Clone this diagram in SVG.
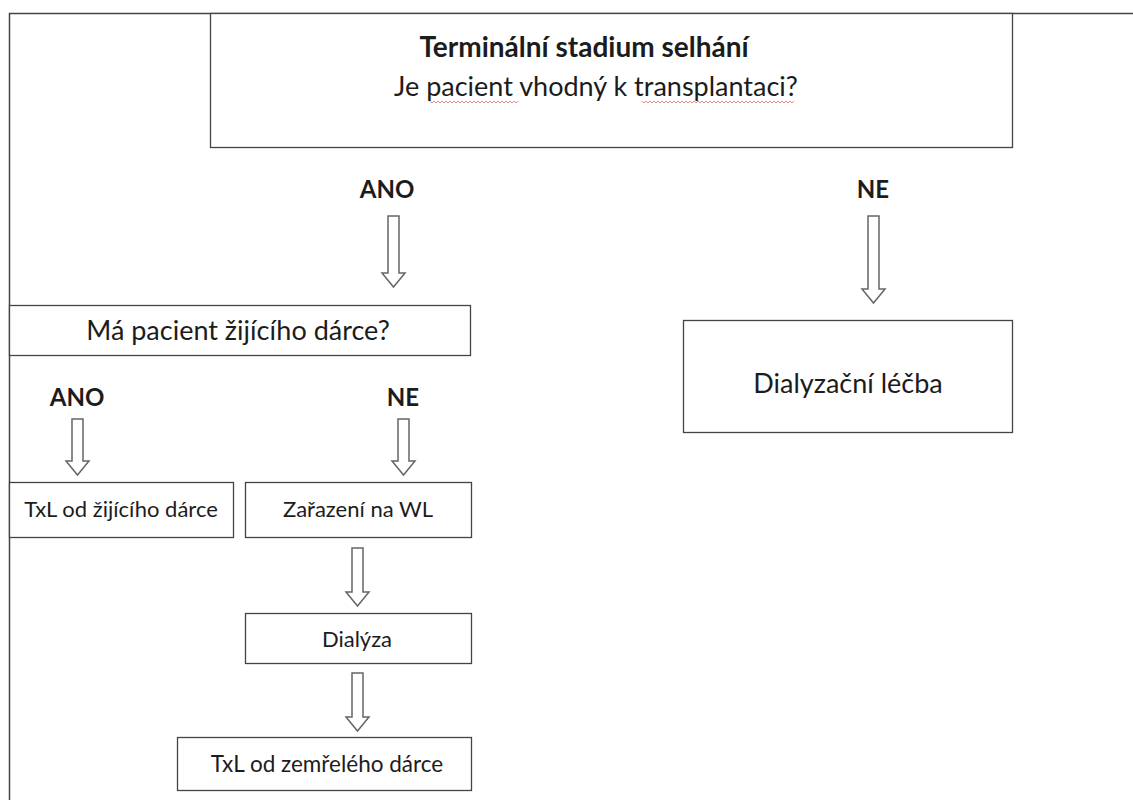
<svg xmlns="http://www.w3.org/2000/svg" width="1133" height="800" viewBox="0 0 1133 800">
<style>
.box{fill:#fff;stroke:#444;stroke-width:1.3}
.frame{fill:none;stroke:#444;stroke-width:1.5}
.t{font-family:Lato,"Open Sans","Liberation Sans",sans-serif;fill:#1c1c1c;text-anchor:middle}
.big{font-size:27px}
.sm{font-size:22px}
.b{font-weight:bold}
.lbl{font-size:24px}
.arr{fill:#fff;stroke:#666;stroke-width:1.5;stroke-linejoin:miter}
.sq{fill:none;stroke:#e46a6a;stroke-width:0.8}
</style>
<rect width="1133" height="800" fill="#fff"/>
<path class="frame" d="M9.5,800 V13.5 H1133"/>
<g id="n-top">
<rect class="box" x="210.5" y="13.5" width="802" height="134"/>
<text class="t b" x="584" y="57" font-size="28">Terminální stadium selhání</text>
<text class="t big" x="596" y="96">Je pacient vhodný k transplantaci?</text>
<path class="sq" d="M430,101 l2,2 l2,-2 l2,2 l2,-2 l2,2 l2,-2 l2,2 l2,-2 l2,2 l2,-2 l2,2 l2,-2 l2,2 l2,-2 l2,2 l2,-2 l2,2 l2,-2 l2,2 l2,-2 l2,2 l2,-2 l2,2 l2,-2 l2,2 l2,-2 l2,2 l2,-2 l2,2 l2,-2 l2,2 l2,-2 l2,2 l2,-2 l2,2 l2,-2 l2,2 l2,-2 l2,2 l2,-2 l2,2 l2,-2 l2,2 l2,-2"/>
<path class="sq" d="M642,101 l2,2 l2,-2 l2,2 l2,-2 l2,2 l2,-2 l2,2 l2,-2 l2,2 l2,-2 l2,2 l2,-2 l2,2 l2,-2 l2,2 l2,-2 l2,2 l2,-2 l2,2 l2,-2 l2,2 l2,-2 l2,2 l2,-2 l2,2 l2,-2 l2,2 l2,-2 l2,2 l2,-2 l2,2 l2,-2 l2,2 l2,-2 l2,2 l2,-2 l2,2 l2,-2 l2,2 l2,-2 l2,2 l2,-2 l2,2 l2,-2 l2,2 l2,-2 l2,2 l2,-2 l2,2 l2,-2 l2,2 l2,-2 l2,2 l2,-2 l2,2 l2,-2 l2,2 l2,-2 l2,2 l2,-2 l2,2 l2,-2 l2,2 l2,-2 l2,2 l2,-2 l2,2 l2,-2 l2,2 l2,-2 l2,2 l2,-2 l2,2 l2,-2 l2,2 l2,-2"/>
</g>
<g id="l-ano1"><text class="t b lbl" x="387" y="198">ANO</text></g>
<g id="l-ne1"><text class="t b lbl" x="873" y="198">NE</text></g>
<g id="n-zije">
<rect class="box" x="9.5" y="305.5" width="461" height="50"/>
<text class="t big" x="238" y="340">Má pacient žijícího dárce?</text>
</g>
<g id="n-dial">
<rect class="box" x="683.5" y="320.5" width="329" height="112"/>
<text class="t big" x="848" y="393">Dialyzační léčba</text>
</g>
<g id="l-ano2"><text class="t b lbl" x="77" y="406">ANO</text></g>
<g id="l-ne2"><text class="t b lbl" x="403" y="406">NE</text></g>
<g id="n-txl1">
<rect class="box" x="9.5" y="482.5" width="224" height="55"/>
<text class="t sm" x="121" y="517">TxL od žijícího dárce</text>
</g>
<g id="n-wl">
<rect class="box" x="245.5" y="482.5" width="226" height="55"/>
<text class="t sm" x="358" y="517">Zařazení na WL</text>
</g>
<g id="n-dialyza">
<rect class="box" x="245.5" y="613.5" width="226" height="50"/>
<text class="t sm" x="357" y="647">Dialýza</text>
</g>
<g id="n-txl2">
<rect class="box" x="177.5" y="737.5" width="294" height="53"/>
<text class="t" x="327" y="772" font-size="22.5">TxL od zemřelého dárce</text>
</g>
<g id="connectors">
<path class="arr" d="M388,216 h11 v57 h6 l-11.5,14 l-11.5,-14 h6 z"/>
<path class="arr" d="M868,216 h11 v73 h6 l-11.5,14 l-11.5,-14 h6 z"/>
<path class="arr" d="M72,419 h11 v42 h6 l-11.5,14 l-11.5,-14 h6 z"/>
<path class="arr" d="M398,419 h11 v42 h6 l-11.5,14 l-11.5,-14 h6 z"/>
<path class="arr" d="M352,548 h11 v44 h6 l-11.5,14 l-11.5,-14 h6 z"/>
<path class="arr" d="M352,673 h11 v44 h6 l-11.5,14 l-11.5,-14 h6 z"/>
</g>
</svg>
